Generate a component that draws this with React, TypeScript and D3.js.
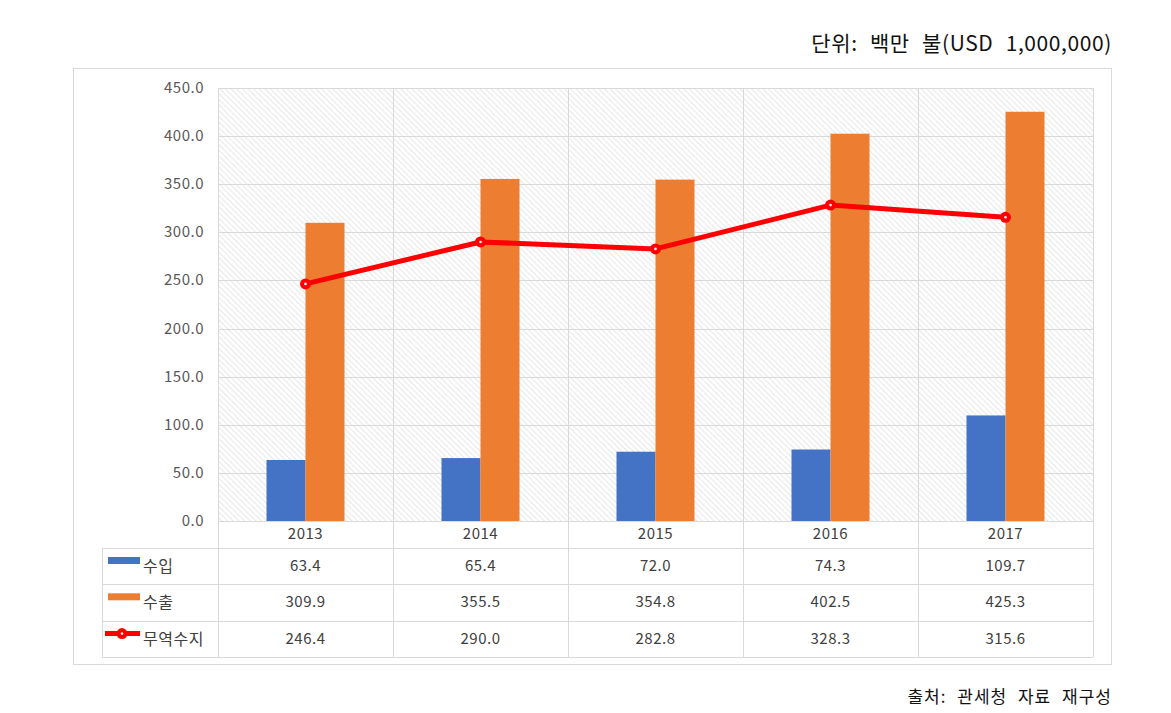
import React from 'react';
import * as d3 from 'd3';

const years = ['2013', '2014', '2015', '2016', '2017'];
const imports = [63.4, 65.4, 72.0, 74.3, 109.7];
const exportsV = [309.9, 355.5, 354.8, 402.5, 425.3];
const balance = [246.4, 290.0, 282.8, 328.3, 315.6];
const yTicks = [0, 50, 100, 150, 200, 250, 300, 350, 400, 450];
const seriesNames = ['수입', '수출', '무역수지'];

const FONT = '"Noto Sans CJK KR", "Noto Sans", sans-serif';

export default function App() {
  const left = 218, right = 1093, top = 88, bottom = 521;
  const tableLeft = 102, rowTop = 548, rowH = 36.3;

  const x = d3.scaleBand<string>().domain(years).range([left, right]).padding(0);
  const bw = x.bandwidth();
  const xs = d3.scaleBand<string>().domain(['imp', 'exp'])
    .range([(bw - 78) / 2, (bw + 78) / 2]).padding(0);
  const y = d3.scaleLinear().domain([0, 450]).range([bottom, top]);

  const line = d3.line<number>()
    .x((d, i) => (x(years[i]) as number) + bw / 2)
    .y(d => y(d));

  const rows = [imports, exportsV, balance];
  const tableBottom = rowTop + rowH * 3;

  return (
    <svg width={1171} height={713} style={{ position: 'absolute', left: 0, top: 0 }}>
      <defs>
        <pattern id="hatch" width="4" height="4" patternUnits="userSpaceOnUse" patternTransform="rotate(-45)">
          <line x1="0" y1="0" x2="0" y2="4" stroke="#d6d6d6" strokeWidth="1.2" />
        </pattern>
      </defs>
      <rect x={0} y={0} width={1171} height={713} fill="#fff" />
      <text x={1112} y={51} textAnchor="end" fontFamily={FONT} fontSize={21} wordSpacing={7} letterSpacing={0.6} fill="#111">단위: 백만 불(USD 1,000,000)</text>
      <rect x={73.5} y={68.5} width={1038} height={596} fill="#fff" stroke="#d9d9d9" strokeWidth={1} />

      {/* plot area */}
      <rect x={left} y={top} width={right - left} height={bottom - top} fill="url(#hatch)" />
      {yTicks.map(t => (
        <line key={t} x1={left} x2={right} y1={Math.round(y(t)) + 0.5} y2={Math.round(y(t)) + 0.5} stroke="#d9d9d9" />
      ))}
      {yTicks.map(t => (
        <text key={'l' + t} x={204} y={y(t) + 5} textAnchor="end" fontFamily={FONT} fontSize={15} letterSpacing={0.5} fill="#595959">{t.toFixed(1)}</text>
      ))}
      {/* vertical grid lines through plot and table */}
      {d3.range(years.length + 1).map(i => {
        const xv = Math.round(left + bw * i) + 0.5;
        return <line key={'v' + i} x1={xv} x2={xv} y1={top} y2={tableBottom} stroke="#d9d9d9" />;
      })}

      {/* bars */}
      {years.map((yr, i) => (
        <g key={yr} transform={`translate(${x(yr)},0)`}>
          <rect x={xs('imp')} y={y(imports[i])} width={xs.bandwidth()} height={bottom - y(imports[i])} fill="#4472c4" />
          <rect x={xs('exp')} y={y(exportsV[i])} width={xs.bandwidth()} height={bottom - y(exportsV[i])} fill="#ed7d31" />
        </g>
      ))}

      {/* line */}
      <path d={line(balance) || ''} fill="none" stroke="#ff0000" strokeWidth={5} strokeLinejoin="round" />
      {balance.map((v, i) => (
        <g key={'m' + i}>
          <circle cx={(x(years[i]) as number) + bw / 2} cy={y(v)} r={5.5} fill="#ff0000" />
          <circle cx={(x(years[i]) as number) + bw / 2} cy={y(v)} r={1.3} fill="#fff" />
        </g>
      ))}

      {/* table */}
      {years.map(yr => (
        <text key={'yr' + yr} x={(x(yr) as number) + bw / 2} y={539} textAnchor="middle" fontFamily={FONT} fontSize={15} letterSpacing={0.5} fill="#404040">{yr}</text>
      ))}
      {d3.range(4).map(i => (
        <line key={'h' + i} x1={tableLeft} x2={right + 0.5} y1={Math.round(rowTop + rowH * i) + 0.5} y2={Math.round(rowTop + rowH * i) + 0.5} stroke="#d9d9d9" />
      ))}
      <line x1={tableLeft + 0.5} x2={tableLeft + 0.5} y1={rowTop} y2={tableBottom} stroke="#d9d9d9" />
      {rows.map((vals, r) => (
        <g key={'r' + r}>
          {vals.map((v, i) => (
            <text key={i} x={(x(years[i]) as number) + bw / 2} y={rowTop + rowH * r + rowH / 2 + 5} textAnchor="middle" fontFamily={FONT} fontSize={15} letterSpacing={0.5} fill="#404040">{v.toFixed(1)}</text>
          ))}
          <text x={143} y={rowTop + rowH * r + rowH / 2 + 6} fontFamily={FONT} fontSize={16} letterSpacing={0.5} fill="#404040">{seriesNames[r]}</text>
        </g>
      ))}
      {/* legend keys */}
      <rect x={108} y={rowTop + rowH * 0 + 9} width={32} height={7} fill="#4472c4" />
      <rect x={108} y={rowTop + rowH * 1 + 9} width={32} height={7} fill="#ed7d31" />
      <line x1={105} x2={140} y1={rowTop + rowH * 2 + 13} y2={rowTop + rowH * 2 + 13} stroke="#ff0000" strokeWidth={5} />
      <circle cx={122} cy={rowTop + rowH * 2 + 13} r={5.5} fill="#ff0000" />
      <circle cx={122} cy={rowTop + rowH * 2 + 13} r={1.3} fill="#fff" />

      <text x={1112} y={703} textAnchor="end" fontFamily={FONT} fontSize={17} wordSpacing={6} letterSpacing={1} fill="#111">출처: 관세청 자료 재구성</text>
    </svg>
  );
}
